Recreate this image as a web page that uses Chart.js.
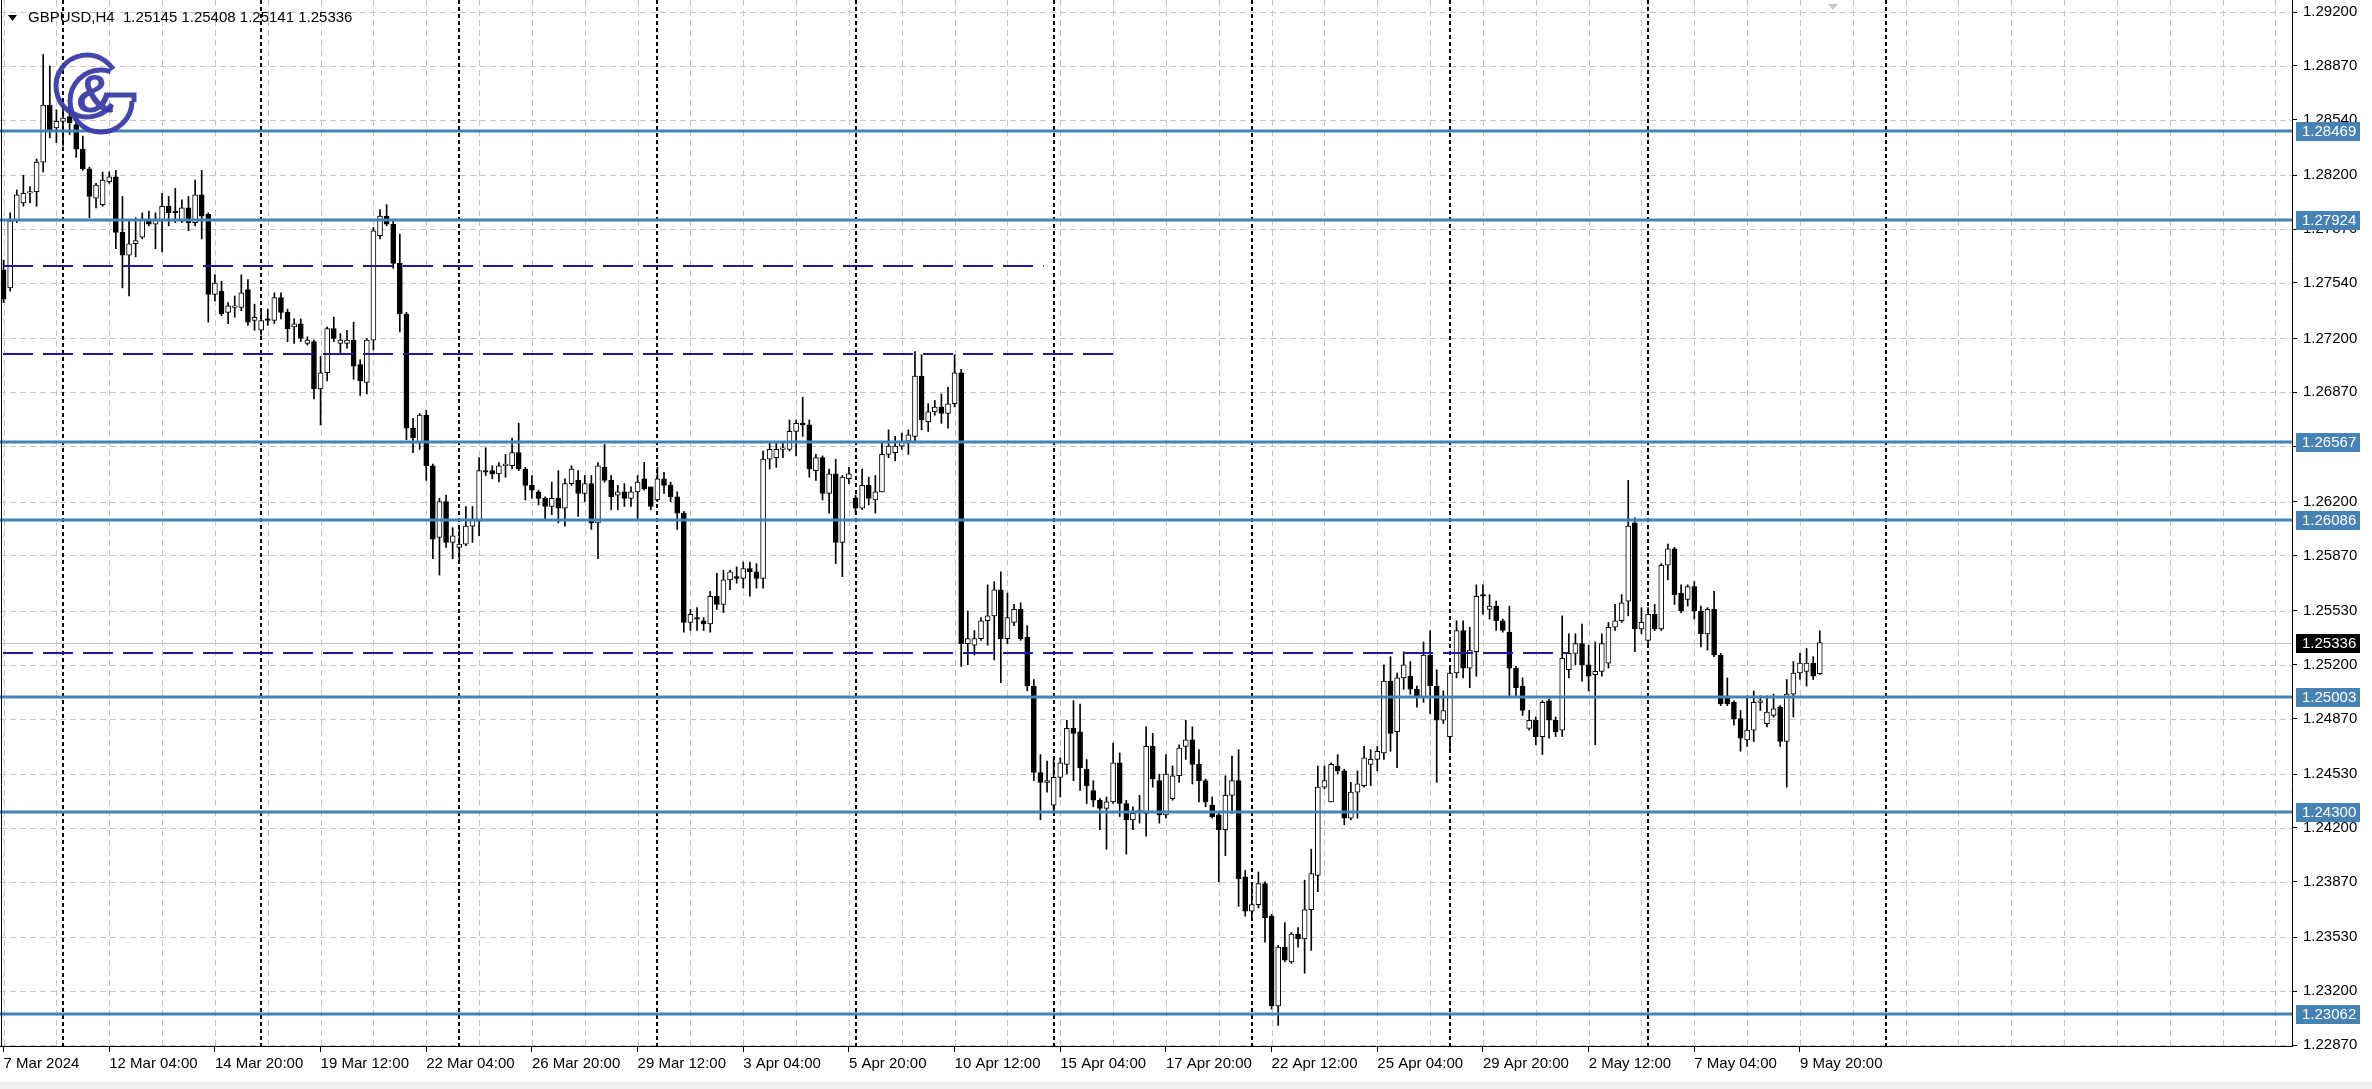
<!DOCTYPE html>
<html>
<head>
<meta charset="utf-8">
<title>GBPUSD,H4</title>
<script src="https://cdn.jsdelivr.net/npm/chart.js@4/dist/chart.umd.min.js"></script>
<style>
  html, body { margin: 0; padding: 0; background: #ffffff; }
  canvas { display: block; }
</style>
</head>
<body>
<canvas id="myChart" width="2372" height="1089"></canvas>
<script>
var symbol = "GBPUSD,H4";

// H4 candles, bar 0 = 7 Mar 2024 12:00
var opens = [
  1.2762,1.2751,1.2792,1.2803,1.2809,1.2810,1.2828,1.2863,1.2849,1.2853,
  1.2856,1.2851,1.2836,1.2824,1.2806,1.2802,1.2816,1.2819,1.2785,1.2771,
  1.2778,1.2782,1.2793,1.2790,1.2792,1.2801,1.2798,1.2792,1.2800,1.2791,
  1.2808,1.2796,1.2747,1.2749,1.2736,1.2739,1.2739,1.2750,1.2731,1.2725,
  1.2732,1.2731,1.2745,1.2736,1.2727,1.2729,1.2717,1.2718,1.2689,1.2699,
  1.2726,1.2717,1.2717,1.2719,1.2704,1.2693,1.2719,1.2783,1.2795,1.2790,
  1.2766,1.2735,1.2665,1.2656,1.2673,1.2642,1.2598,1.2620,1.2595,1.2592,
  1.2594,1.2605,1.2608,1.2639,1.2639,1.2637,1.2642,1.2642,1.2650,1.2640,
  1.2630,1.2626,1.2622,1.2617,1.2622,1.2616,1.2631,1.2633,1.2625,1.2631,
  1.2607,1.2641,1.2633,1.2624,1.2626,1.2622,1.2626,1.2634,1.2629,1.2621,
  1.2634,1.2630,1.2623,1.2613,1.2546,1.2549,1.2547,1.2545,1.2562,1.2557,
  1.2572,1.2574,1.2573,1.2579,1.2577,1.2573,1.2646,1.2647,1.2652,1.2652,
  1.2663,1.2668,1.2667,1.2639,1.2647,1.2625,1.2637,1.2595,1.2634,1.2622,
  1.2616,1.2630,1.2621,1.2626,1.2649,1.2650,1.2654,1.2657,1.2660,1.2697,
  1.2669,1.2675,1.2678,1.2674,1.2680,1.2699,1.2533,1.2532,1.2536,1.2547,
  1.2550,1.2566,1.2536,1.2546,1.2554,1.2537,1.2507,1.2454,1.2448,1.2434,
  1.2451,1.2459,1.2481,1.2479,1.2456,1.2443,1.2437,1.2432,1.2436,1.2460,
  1.2435,1.2425,1.2430,1.2429,1.2470,1.2449,1.2428,1.2438,1.2452,1.2470,
  1.2474,1.2459,1.2449,1.2434,1.2428,1.2419,1.2440,1.2449,1.2390,1.2369,
  1.2373,1.2386,1.2366,1.2311,1.2347,1.2338,1.2355,1.2352,1.2370,1.2391,
  1.2445,1.2436,1.2458,1.2455,1.2426,1.2442,1.2446,1.2459,1.2462,1.2466,
  1.2510,1.2479,1.2512,1.2513,1.2505,1.2500,1.2526,1.2507,1.2486,1.2476,
  1.2515,1.2541,1.2518,1.2528,1.2563,1.2554,1.2556,1.2547,1.2540,1.2518,
  1.2507,1.2481,1.2486,1.2476,1.2498,1.2486,1.2480,1.2517,1.2527,1.2533,
  1.2520,1.2514,1.2516,1.2521,1.2543,1.2547,1.2559,1.2607,1.2542,1.2535,
  1.2551,1.2542,1.2581,1.2591,1.2564,1.2560,1.2568,1.2553,1.2539,1.2554,
  1.2526,1.2501,1.2497,1.2487,1.2474,1.2480,1.2497,1.2484,1.2489,1.2494,
  1.2473,1.2502,1.2515,1.2516,1.2521,1.25145
];
var highs = [
  1.2768,1.2797,1.2811,1.2820,1.2813,1.2830,1.2894,1.2887,1.2860,1.2862,
  1.2864,1.2856,1.2844,1.2825,1.2815,1.2822,1.2822,1.2823,1.2807,1.2793,
  1.2794,1.2797,1.2798,1.2797,1.2809,1.2807,1.2812,1.2805,1.2807,1.2817,
  1.2823,1.2797,1.2759,1.2755,1.2742,1.2746,1.2759,1.2756,1.2741,1.2738,
  1.2738,1.2748,1.2748,1.2738,1.2732,1.2732,1.2721,1.2719,1.2709,1.2727,
  1.2733,1.2723,1.2725,1.2730,1.2707,1.2720,1.2788,1.2799,1.2802,1.2793,
  1.2784,1.2736,1.2671,1.2674,1.2676,1.2643,1.2622,1.2624,1.2604,1.2603,
  1.2617,1.2617,1.2647,1.2653,1.2642,1.2644,1.2649,1.2659,1.2668,1.2641,
  1.2636,1.2627,1.2623,1.2632,1.2639,1.2634,1.2642,1.2639,1.2636,1.2636,
  1.2644,1.2655,1.2636,1.2630,1.2631,1.2629,1.2636,1.2644,1.2629,1.2641,
  1.2638,1.2632,1.2626,1.2614,1.2554,1.2555,1.2549,1.2565,1.2576,1.2578,
  1.2578,1.2580,1.2583,1.2583,1.2582,1.2651,1.2657,1.2656,1.2656,1.2670,
  1.2670,1.2684,1.2670,1.2649,1.2648,1.2640,1.2646,1.2636,1.2641,1.2624,
  1.2640,1.2635,1.2636,1.2656,1.2664,1.2660,1.2662,1.2664,1.2712,1.2710,
  1.2680,1.2682,1.2686,1.2690,1.2710,1.2701,1.2553,1.2541,1.2549,1.2569,
  1.2571,1.2577,1.2564,1.2557,1.2558,1.2544,1.2511,1.2465,1.2461,1.2463,
  1.2463,1.2486,1.2498,1.2496,1.2462,1.2449,1.2438,1.2439,1.2472,1.2466,
  1.2437,1.2433,1.2440,1.2482,1.2478,1.2453,1.2465,1.2458,1.2471,1.2486,
  1.2482,1.2468,1.2450,1.2439,1.2429,1.2452,1.2464,1.2468,1.2394,1.2385,
  1.2393,1.2387,1.2367,1.2348,1.2362,1.2356,1.2359,1.2388,1.2407,1.2458,
  1.2458,1.2460,1.2465,1.2456,1.2448,1.2455,1.2470,1.2468,1.2470,1.2520,
  1.2525,1.2515,1.2528,1.2522,1.2507,1.2534,1.2541,1.2517,1.2504,1.2518,
  1.2547,1.2547,1.2543,1.2569,1.2569,1.2563,1.2559,1.2548,1.2556,1.2519,
  1.2512,1.2492,1.2488,1.2498,1.2499,1.2488,1.2550,1.2539,1.2539,1.2545,
  1.2532,1.2534,1.2539,1.2546,1.2557,1.2563,1.2633,1.2610,1.2555,1.2555,
  1.2557,1.2582,1.2594,1.2592,1.2569,1.2569,1.2571,1.2556,1.2555,1.2565,
  1.2527,1.2512,1.2498,1.2492,1.2501,1.2504,1.2501,1.2501,1.2502,1.2495,
  1.2511,1.2522,1.2527,1.2530,1.2525,1.25408
];
var lows = [
  1.2742,1.2749,1.2791,1.2801,1.2803,1.2801,1.2822,1.2843,1.2840,1.2838,
  1.2845,1.2831,1.2823,1.2794,1.2800,1.2801,1.2815,1.2775,1.2751,1.2746,
  1.2770,1.2781,1.2789,1.2775,1.2773,1.2789,1.2791,1.2791,1.2786,1.2789,
  1.2781,1.2730,1.2743,1.2734,1.2729,1.2733,1.2737,1.2728,1.2725,1.2722,
  1.2728,1.2729,1.2732,1.2718,1.2717,1.2718,1.2716,1.2683,1.2667,1.2694,
  1.2718,1.2710,1.2714,1.2695,1.2685,1.2686,1.2713,1.2781,1.2789,1.2763,
  1.2724,1.2658,1.2650,1.2652,1.2633,1.2585,1.2575,1.2592,1.2585,1.2583,
  1.2593,1.2595,1.2599,1.2636,1.2634,1.2632,1.2635,1.2640,1.2639,1.2621,
  1.2622,1.2618,1.2609,1.2612,1.2607,1.2605,1.2630,1.2611,1.2620,1.2603,
  1.2585,1.2632,1.2615,1.2615,1.2617,1.2617,1.2609,1.2627,1.2615,1.2620,
  1.2625,1.2620,1.2603,1.2540,1.2541,1.2541,1.2541,1.2540,1.2554,1.2552,
  1.2566,1.2570,1.2567,1.2562,1.2567,1.2567,1.2640,1.2641,1.2647,1.2651,
  1.2648,1.2660,1.2635,1.2633,1.2621,1.2613,1.2582,1.2574,1.2631,1.2613,
  1.2615,1.2618,1.2613,1.2626,1.2647,1.2645,1.2652,1.2649,1.2657,1.2664,
  1.2663,1.2673,1.2668,1.2665,1.2678,1.2519,1.2520,1.2526,1.2535,1.2532,
  1.2523,1.2509,1.2533,1.2544,1.2535,1.2504,1.2449,1.2425,1.2442,1.2430,
  1.2439,1.2453,1.2449,1.2443,1.2435,1.2433,1.2419,1.2407,1.2435,1.2427,
  1.2404,1.2419,1.2423,1.2415,1.2445,1.2423,1.2426,1.2437,1.2448,1.2462,
  1.2447,1.2436,1.2433,1.2426,1.2387,1.2403,1.2429,1.2372,1.2366,1.2364,
  1.2371,1.2350,1.2309,1.2299,1.2338,1.2337,1.2347,1.2331,1.2345,1.2381,
  1.2444,1.2436,1.2453,1.2422,1.2425,1.2426,1.2445,1.2446,1.2455,1.2462,
  1.2467,1.2457,1.2505,1.2502,1.2494,1.2497,1.2490,1.2448,1.2484,1.2467,
  1.2512,1.2512,1.2506,1.2513,1.2551,1.2548,1.2541,1.2540,1.2501,1.2500,
  1.2489,1.2480,1.2471,1.2465,1.2475,1.2476,1.2476,1.2512,1.2520,1.2510,
  1.2504,1.2471,1.2513,1.2518,1.2541,1.2546,1.2550,1.2528,1.2539,1.2533,
  1.2541,1.2541,1.2572,1.2557,1.2552,1.2556,1.2548,1.2531,1.2529,1.2525,
  1.2495,1.2495,1.2483,1.2467,1.2470,1.2473,1.2492,1.2482,1.2488,1.2470,
  1.2445,1.2488,1.2511,1.2507,1.2511,1.25141
];
var closes = [
  1.2744,1.2792,1.2808,1.2809,1.2810,1.2828,1.2863,1.2848,1.2853,1.2855,
  1.2852,1.2836,1.2824,1.2807,1.2814,1.2817,1.2819,1.2785,1.2771,1.2778,
  1.2780,1.2793,1.2790,1.2793,1.2801,1.2797,1.2797,1.2800,1.2791,1.2808,
  1.2795,1.2747,1.2754,1.2735,1.2740,1.2740,1.2748,1.2730,1.2733,1.2731,
  1.2731,1.2745,1.2736,1.2726,1.2729,1.2720,1.2719,1.2689,1.2699,1.2726,
  1.2720,1.2719,1.2719,1.2703,1.2694,1.2719,1.2786,1.2795,1.2790,1.2766,
  1.2735,1.2665,1.2659,1.2673,1.2642,1.2597,1.2620,1.2595,1.2599,1.2594,
  1.2605,1.2609,1.2639,1.2638,1.2637,1.2642,1.2643,1.2650,1.2640,1.2630,
  1.2627,1.2622,1.2617,1.2622,1.2616,1.2631,1.2640,1.2625,1.2631,1.2607,
  1.2642,1.2633,1.2623,1.2626,1.2622,1.2626,1.2632,1.2628,1.2617,1.2634,
  1.2630,1.2623,1.2613,1.2546,1.2551,1.2548,1.2545,1.2562,1.2557,1.2572,
  1.2577,1.2573,1.2579,1.2577,1.2573,1.2646,1.2652,1.2652,1.2653,1.2663,
  1.2668,1.2667,1.2640,1.2647,1.2625,1.2637,1.2595,1.2635,1.2637,1.2616,
  1.2630,1.2622,1.2626,1.2649,1.2654,1.2654,1.2657,1.2661,1.2697,1.2670,
  1.2675,1.2678,1.2674,1.2680,1.2699,1.2533,1.2536,1.2536,1.2547,1.2550,
  1.2566,1.2536,1.2549,1.2554,1.2536,1.2507,1.2454,1.2448,1.2449,1.2451,
  1.2460,1.2481,1.2478,1.2457,1.2446,1.2437,1.2432,1.2436,1.2460,1.2435,
  1.2425,1.2429,1.2431,1.2470,1.2450,1.2428,1.2453,1.2452,1.2469,1.2474,
  1.2459,1.2449,1.2436,1.2427,1.2419,1.2440,1.2449,1.2389,1.2369,1.2373,
  1.2386,1.2365,1.2311,1.2347,1.2339,1.2355,1.2352,1.2370,1.2392,1.2445,
  1.2449,1.2459,1.2455,1.2426,1.2442,1.2447,1.2463,1.2462,1.2467,1.2510,
  1.2478,1.2512,1.2520,1.2505,1.2500,1.2526,1.2507,1.2486,1.2492,1.2515,
  1.2541,1.2518,1.2529,1.2562,1.2562,1.2556,1.2547,1.2541,1.2518,1.2506,
  1.2492,1.2486,1.2476,1.2497,1.2486,1.2479,1.2524,1.2527,1.2533,1.2520,
  1.2513,1.2516,1.2533,1.2543,1.2547,1.2558,1.2605,1.2542,1.2546,1.2551,
  1.2542,1.2581,1.2591,1.2563,1.2553,1.2568,1.2553,1.2539,1.2554,1.2526,
  1.2496,1.2496,1.2487,1.2475,1.2480,1.2497,1.2498,1.2491,1.2493,1.2473,
  1.2502,1.2515,1.2521,1.2521,1.2513,1.25336
];

var dateLabels = ["7 Mar 2024", "12 Mar 04:00", "14 Mar 20:00", "19 Mar 12:00", "22 Mar 04:00",
  "26 Mar 20:00", "29 Mar 12:00", "3 Apr 04:00", "5 Apr 20:00", "10 Apr 12:00", "15 Apr 04:00",
  "17 Apr 20:00", "22 Apr 12:00", "25 Apr 04:00", "29 Apr 20:00", "2 May 12:00", "7 May 04:00",
  "9 May 20:00"];
var labelBars = [0, 16, 32, 48, 64, 80, 96, 112, 128, 144, 160, 176, 192, 208, 224, 240, 256, 272];

var priceTicks = [1.29200, 1.28870, 1.28540, 1.28200, 1.27870, 1.27540, 1.27200, 1.26870, 1.26540,
  1.26200, 1.25870, 1.25530, 1.25200, 1.24870, 1.24530, 1.24200, 1.23870, 1.23530, 1.23200, 1.22870];

// support / resistance levels
var levels = [1.28469, 1.27924, 1.26567, 1.26086, 1.25003, 1.24300, 1.23062];
// dashed lines and the bar where each one stops
var dashedLevels = [1.27642, 1.27107, 1.2527];
var dashedEnds = [157.5, 168.4, 236.9];
// week separators (bar index)
var weekStarts = [9, 39, 69, 99, 129, 159, 189, 219, 249, 285];

var font = '"Liberation Sans", Arial, sans-serif';

Chart.defaults.font.family = font;
Chart.defaults.font.size = 15;
Chart.defaults.color = "#000000";

function lastBar() {
  return opens.length - 1;
}

function bodyData() {
  var out = [];
  for (var i = 0; i < opens.length; i++) {
    out.push({ x: i, y: [opens[i], closes[i]] });
  }
  return out;
}

function wickData() {
  var out = [];
  for (var i = 0; i < opens.length; i++) {
    out.push({ x: i, y: [lows[i], highs[i]] });
  }
  return out;
}

function bodyColors() {
  var out = [];
  for (var i = 0; i < opens.length; i++) {
    out.push(closes[i] >= opens[i] ? "#ffffff" : "#000000");
  }
  return out;
}

function line(ctx, x1, y1, x2, y2, color, width, dash) {
  ctx.save();
  ctx.strokeStyle = color;
  ctx.lineWidth = width;
  ctx.setLineDash(dash || []);
  ctx.beginPath();
  ctx.moveTo(x1, y1);
  ctx.lineTo(x2, y2);
  ctx.stroke();
  ctx.restore();
}

function priceBox(ctx, chart, value, fill) {
  var y = Math.round(chart.scales.y.getPixelForValue(value));
  var left = chart.chartArea.right + 4;
  ctx.save();
  ctx.fillStyle = fill;
  ctx.fillRect(left, y - 9, 64, 19);
  ctx.fillStyle = "#ffffff";
  ctx.font = "15px " + font;
  ctx.textAlign = "left";
  ctx.textBaseline = "middle";
  ctx.fillText(value.toFixed(5), left + 6, y + 1);
  ctx.restore();
}

function drawLogo(ctx) {
  ctx.save();
  ctx.globalAlpha = 0.95;
  ctx.strokeStyle = "#3a3ca8";
  ctx.fillStyle = "#3a3ca8";
  ctx.lineWidth = 5;
  ctx.beginPath();
  ctx.arc(87, 86, 31, Math.PI * 0.2, Math.PI * 1.82);
  ctx.stroke();
  ctx.beginPath();
  ctx.arc(101, 101, 31, 0, Math.PI * 1.6);
  ctx.stroke();
  ctx.beginPath();
  ctx.moveTo(107, 95);
  ctx.lineTo(134, 95);
  ctx.lineTo(134, 102);
  ctx.stroke();
  ctx.font = "bold 54px " + font;
  ctx.textAlign = "center";
  ctx.textBaseline = "middle";
  ctx.fillText("&", 95, 97);
  ctx.restore();
}

var terminalLook = {
  id: "terminalLook",

  beforeDraw: function(chart) {
    var ctx = chart.ctx;
    ctx.save();
    ctx.fillStyle = "#ffffff";
    ctx.fillRect(0, 0, chart.width, chart.height);
    ctx.fillStyle = "#f0f0f0";
    ctx.fillRect(0, 1082, chart.width, chart.height - 1082);
    ctx.restore();
  },

  beforeDatasetsDraw: function(chart) {
    var ctx = chart.ctx;
    var area = chart.chartArea;
    var xs = chart.scales.x;
    var ys = chart.scales.y;

    ctx.save();
    ctx.beginPath();
    ctx.rect(area.left, area.top, area.right - area.left, area.bottom - area.top);
    ctx.clip();

    for (var k = 0; k < priceTicks.length; k++) {
      var y = Math.round(ys.getPixelForValue(priceTicks[k])) + 0.5;
      line(ctx, area.left, y, area.right, y, "#c6c6c6", 1, [6, 4]);
    }

    for (var i = 0; xs.getPixelForValue(i) < area.right; i += 8) {
      var x = Math.round(xs.getPixelForValue(i)) + 0.5;
      line(ctx, x, area.top, x, area.bottom, "#c6c6c6", 1, [6, 4]);
    }

    for (var w = 0; w < weekStarts.length; w++) {
      var sx = Math.round(xs.getPixelForValue(weekStarts[w]));
      line(ctx, sx, area.top, sx, area.bottom, "#000000", 2, [4, 3]);
    }

    var by = Math.round(ys.getPixelForValue(closes[lastBar()])) + 0.5;
    line(ctx, area.left, by, area.right, by, "#c0c0c0", 1);

    ctx.restore();
  },

  afterDatasetsDraw: function(chart) {
    var ctx = chart.ctx;
    var area = chart.chartArea;
    var xs = chart.scales.x;
    var ys = chart.scales.y;

    ctx.save();
    ctx.beginPath();
    ctx.rect(area.left, area.top, area.right - area.left, area.bottom - area.top);
    ctx.clip();

    for (var d = 0; d < dashedLevels.length; d++) {
      var dy = Math.round(ys.getPixelForValue(dashedLevels[d]));
      line(ctx, area.left + 3, dy, xs.getPixelForValue(dashedEnds[d]), dy, "#1c1ca0", 2, [30, 10]);
    }

    for (var l = 0; l < levels.length; l++) {
      var ly = Math.round(ys.getPixelForValue(levels[l]));
      line(ctx, area.left, ly, area.right, ly, "#4682b4", 3);
    }

    drawLogo(ctx);
    ctx.restore();
  },

  afterDraw: function(chart) {
    var ctx = chart.ctx;
    var area = chart.chartArea;

    for (var l = 0; l < levels.length; l++) {
      priceBox(ctx, chart, levels[l], "#4682b4");
    }
    priceBox(ctx, chart, closes[lastBar()], "#000000");

    // left frame
    line(ctx, area.left + 1.5, area.top, area.left + 1.5, area.bottom, "#000000", 1);

    // header: symbol and last bar OHLC
    var n = lastBar();
    ctx.save();
    ctx.fillStyle = "#000000";
    ctx.beginPath();
    ctx.moveTo(8, 15);
    ctx.lineTo(17, 15);
    ctx.lineTo(12.5, 21);
    ctx.closePath();
    ctx.fill();
    ctx.font = "15px " + font;
    ctx.textBaseline = "middle";
    ctx.textAlign = "left";
    ctx.fillText(symbol + "  " + opens[n].toFixed(5) + " " + highs[n].toFixed(5) + " " +
      lows[n].toFixed(5) + " " + closes[n].toFixed(5), 28, 18);

    // chart shift marker
    ctx.fillStyle = "#c8c8c8";
    ctx.beginPath();
    ctx.moveTo(1828, 4);
    ctx.lineTo(1838, 4);
    ctx.lineTo(1833, 10);
    ctx.closePath();
    ctx.fill();
    ctx.restore();
  }
};

function drawChart() {

  var ctx = document.getElementById("myChart");

  var myChart = new Chart(ctx, {
    type: "bar",
    data: {
      datasets: [
        {
          label: "body",
          data: bodyData(),
          backgroundColor: bodyColors(),
          borderColor: "#000000",
          borderWidth: 1,
          borderSkipped: false,
          barThickness: 5,
          grouped: false,
          order: 0
        },
        {
          label: "wick",
          data: wickData(),
          backgroundColor: "#000000",
          borderWidth: 0,
          barThickness: 1,
          grouped: false,
          order: 1
        }
      ]
    },
    options: {
      responsive: false,
      animation: false,
      devicePixelRatio: 1,
      events: [],
      layout: { padding: 0 },
      plugins: {
        legend: { display: false },
        tooltip: { enabled: false }
      },
      scales: {
        x: {
          type: "linear",
          min: -0.54,
          max: 346.5,
          offset: false,
          afterFit: function(scale) {
            scale.height = 43;
            scale.paddingLeft = 0;
            scale.paddingRight = 0;
          },
          afterBuildTicks: function(axis) {
            axis.ticks = labelBars.map(function(b) { return { value: b }; });
          },
          ticks: {
            autoSkip: false,
            maxRotation: 0,
            minRotation: 0,
            align: "start",
            padding: 3,
            color: "#000000",
            font: { size: 15 },
            callback: function(value, index) { return dateLabels[index]; }
          },
          grid: {
            display: true,
            drawOnChartArea: false,
            drawTicks: true,
            tickLength: 6,
            color: "#000000",
            offset: false
          },
          border: { display: true, color: "#000000", width: 1 }
        },
        y: {
          type: "linear",
          position: "right",
          min: 1.22864,
          max: 1.29274,
          afterFit: function(scale) {
            scale.width = 80;
            scale.paddingTop = 0;
            scale.paddingBottom = 0;
          },
          afterBuildTicks: function(axis) {
            axis.ticks = priceTicks.map(function(v) { return { value: v }; });
          },
          ticks: {
            autoSkip: false,
            padding: 6,
            color: "#000000",
            font: { size: 15 },
            callback: function(value) { return Number(value).toFixed(5); }
          },
          grid: {
            display: true,
            drawOnChartArea: false,
            drawTicks: true,
            tickLength: 5,
            color: "#000000"
          },
          border: { display: true, color: "#000000", width: 1 }
        }
      }
    },
    plugins: [terminalLook]
  });
}

drawChart();
</script>
</body>
</html>
